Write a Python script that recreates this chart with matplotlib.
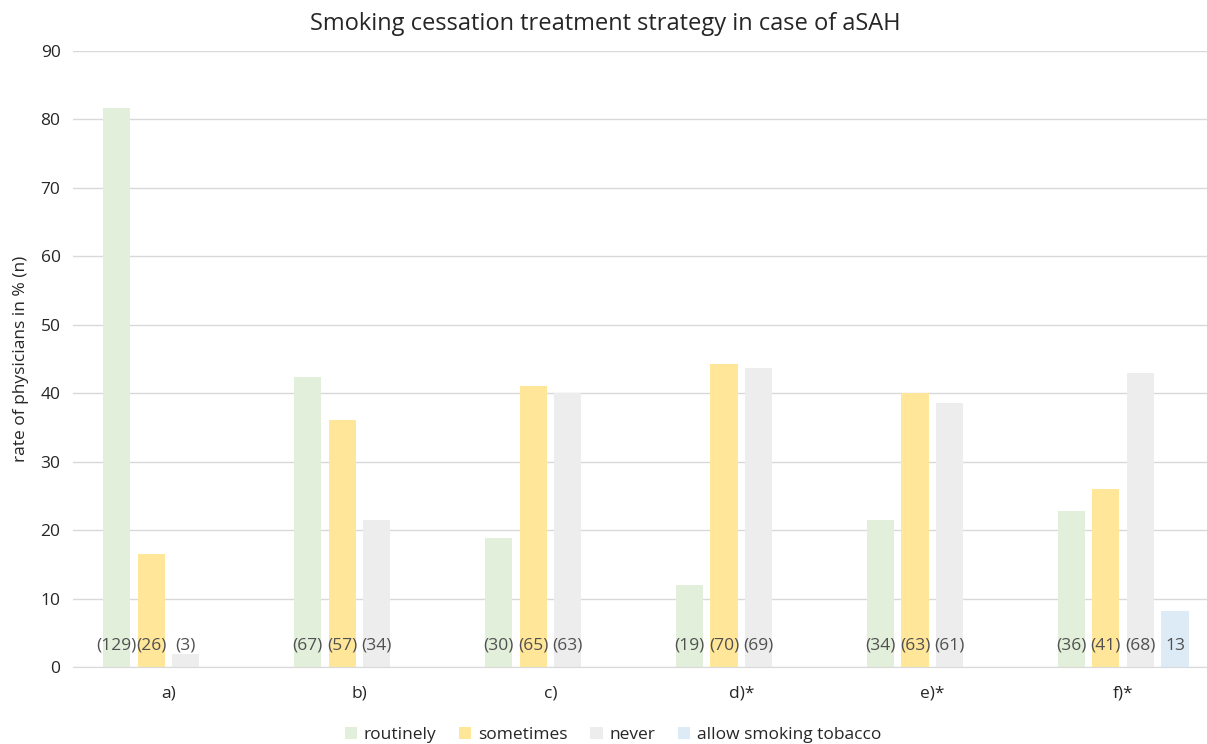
import numpy as np
import matplotlib.pyplot as plt

plt.rcParams['font.family'] = ['Open Sans', 'DejaVu Sans']

categories = ['a)', 'b)', 'c)', 'd)*', 'e)*', 'f)*']
series_names = ['routinely', 'sometimes', 'never', 'allow smoking tobacco']
routinely = [81.6, 42.4, 18.9, 12.0, 21.5, 22.8]
sometimes = [16.5, 36.1, 41.1, 44.3, 40.0, 26.0]
never = [1.9, 21.5, 40.0, 43.7, 38.6, 43.0]
allow = [0, 0, 0, 0, 0, 8.2]
labels_routinely = ['(129)', '(67)', '(30)', '(19)', '(34)', '(36)']
labels_sometimes = ['(26)', '(57)', '(65)', '(70)', '(63)', '(41)']
labels_never = ['(3)', '(34)', '(63)', '(69)', '(61)', '(68)']
labels_allow = ['', '', '', '', '', '13']

colors = ['#E2EFDA', '#FFE699', '#EDEDED', '#DDEBF7']

fig = plt.figure(figsize=(12.07, 7.44), dpi=100)
ax = fig.add_axes([0.0605, 0.1035, 0.946, 0.828])

x = np.arange(len(categories))
step = 0.181
width = 0.142
data = [routinely, sometimes, never, allow]
labs = [labels_routinely, labels_sometimes, labels_never, labels_allow]
for i, (vals, lab) in enumerate(zip(data, labs)):
    pos = x + (i - 1.5) * step
    ax.bar(pos, vals, width, color=colors[i], label=series_names[i], zorder=2)
    for p, t in zip(pos, lab):
        if t:
            ax.text(p, 3.1, t, ha='center', va='center', fontsize=12.5,
                    color='#505050', zorder=3)

ax.set_ylim(0, 90)
ax.set_yticks(range(0, 91, 10))
ax.set_xlim(-0.5, 5.48)
ax.set_xticks(x)
ax.set_xticklabels(categories)
ax.grid(axis='y', color='#D9D9D9', linewidth=1, zorder=0)
for s in ['top', 'right', 'left']:
    ax.spines[s].set_visible(False)
ax.spines['bottom'].set_color('#D9D9D9')
ax.tick_params(axis='both', length=0, labelsize=12.5, labelcolor='#262626')
ax.tick_params(axis='x', pad=13)
ax.tick_params(axis='y', pad=9)
ax.set_ylabel('rate of physicians in % (n)', fontsize=12.5, color='#262626', labelpad=8)
ax.set_title('Smoking cessation treatment strategy in case of aSAH', fontsize=17,
             color='#262626', pad=15, x=0.466)

ax.legend(loc='center', bbox_to_anchor=(0.473, -0.110), ncol=4, frameon=False,
          fontsize=12.5, handlelength=0.7, handleheight=0.7, columnspacing=1.3,
          handletextpad=0.4, labelcolor='#262626')

fig.savefig('out.png', dpi=100)
